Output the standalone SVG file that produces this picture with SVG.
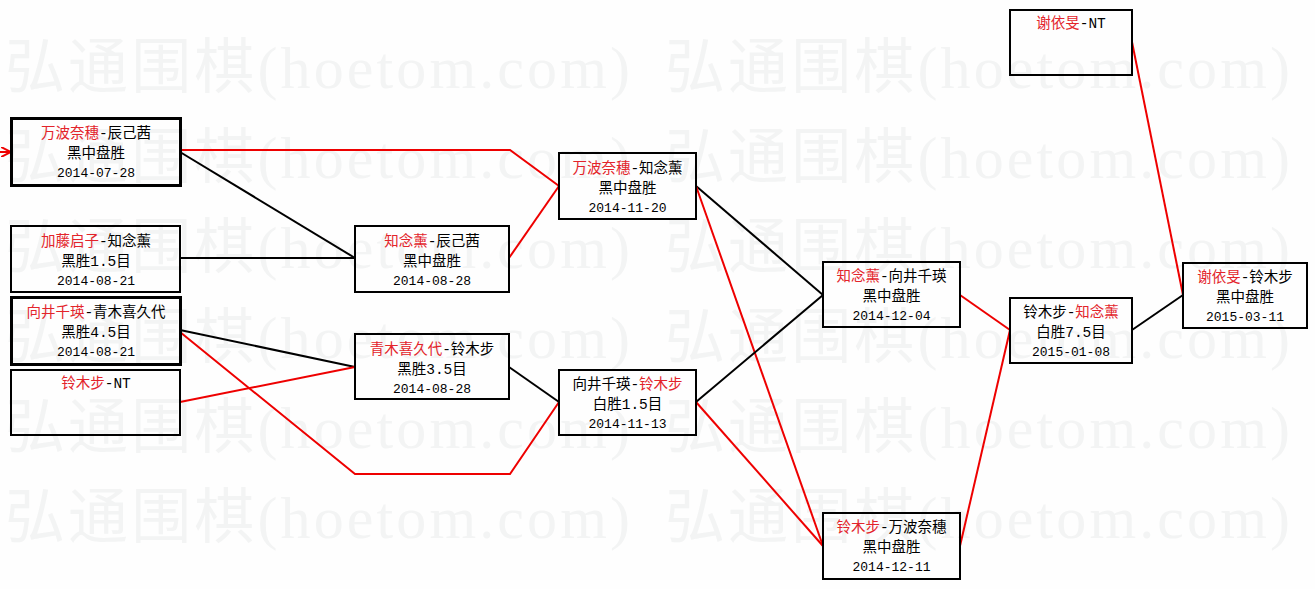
<svg xmlns="http://www.w3.org/2000/svg" width="1315" height="589" viewBox="0 0 1315 589">
<style>
.wm{font-family:"Liberation Serif","Noto Sans CJK SC",serif;font-size:60px;fill:#f3f4f4}
.box{fill:none;stroke:#000;stroke-width:2}
.thick{stroke-width:3}
.t{font-family:"Liberation Mono","Noto Sans CJK SC",monospace;font-size:14.5px;fill:#000;text-anchor:middle}
.d{font-family:"Liberation Mono","Noto Sans CJK SC",monospace;font-size:13px;fill:#000;text-anchor:middle}
.r{fill:#e3242b}
.lr{fill:none;stroke:#ee0000;stroke-width:2}
.lb{fill:none;stroke:#000;stroke-width:2}
</style>
<defs>
<marker id="ah" viewBox="0 0 10 10" refX="9" refY="5" markerWidth="5" markerHeight="5" orient="auto" markerUnits="strokeWidth">
<path d="M0,0 L10,5 L0,10" fill="none" stroke="#ee0000" stroke-width="2"/>
</marker>
</defs>
<rect width="1315" height="589" fill="#fefefe"/>
<g id="watermark">
<text class="wm" x="5" y="88" textLength="625" lengthAdjust="spacing">弘通围棋(hoetom.com)</text>
<text class="wm" x="665" y="88" textLength="625" lengthAdjust="spacing">弘通围棋(hoetom.com)</text>
<text class="wm" x="5" y="178" textLength="625" lengthAdjust="spacing">弘通围棋(hoetom.com)</text>
<text class="wm" x="665" y="178" textLength="625" lengthAdjust="spacing">弘通围棋(hoetom.com)</text>
<text class="wm" x="5" y="268" textLength="625" lengthAdjust="spacing">弘通围棋(hoetom.com)</text>
<text class="wm" x="665" y="268" textLength="625" lengthAdjust="spacing">弘通围棋(hoetom.com)</text>
<text class="wm" x="5" y="358" textLength="625" lengthAdjust="spacing">弘通围棋(hoetom.com)</text>
<text class="wm" x="665" y="358" textLength="625" lengthAdjust="spacing">弘通围棋(hoetom.com)</text>
<text class="wm" x="5" y="448" textLength="625" lengthAdjust="spacing">弘通围棋(hoetom.com)</text>
<text class="wm" x="665" y="448" textLength="625" lengthAdjust="spacing">弘通围棋(hoetom.com)</text>
<text class="wm" x="5" y="538" textLength="625" lengthAdjust="spacing">弘通围棋(hoetom.com)</text>
<text class="wm" x="665" y="538" textLength="625" lengthAdjust="spacing">弘通围棋(hoetom.com)</text>
</g>
<g id="connectors">
<line class="lr" x1="0" y1="152" x2="10" y2="152" marker-end="url(#ah)"/>
<polyline class="lr" points="180,150 510,150 559,186"/>
<polyline class="lb" points="180,152 355,258"/>
<polyline class="lb" points="180,258 355,258"/>
<polyline class="lr" points="509,258 559,186"/>
<polyline class="lb" points="180,330 355,367"/>
<polyline class="lr" points="180,402 355,367"/>
<polyline class="lr" points="180,332 355,474 510,474 559,402"/>
<polyline class="lb" points="509,367 559,402"/>
<polyline class="lb" points="696,186 823,295"/>
<polyline class="lr" points="696,186 823,546"/>
<polyline class="lb" points="696,402 823,295"/>
<polyline class="lr" points="696,402 823,546"/>
<polyline class="lr" points="960,295 1010,330"/>
<polyline class="lr" points="960,546 1010,330"/>
<polyline class="lb" points="1132,330 1183,295"/>
<polyline class="lr" points="1132,42 1183,295"/>
</g>
<g id="n1">
<rect class="box thick" x="11.5" y="118.5" width="169" height="67"/>
<text class="t" x="96" y="138"><tspan class="r">万波奈穗</tspan>-辰己茜</text>
<text class="t" x="96" y="158">黑中盘胜</text>
<text class="d" x="96" y="177">2014-07-28</text>
</g>
<g id="n2">
<rect class="box" x="11" y="226" width="169" height="66"/>
<text class="t" x="96" y="246"><tspan class="r">加藤启子</tspan>-知念薰</text>
<text class="t" x="96" y="266">黑胜1.5目</text>
<text class="d" x="96" y="285">2014-08-21</text>
</g>
<g id="n3">
<rect class="box thick" x="11.5" y="297.5" width="169" height="67"/>
<text class="t" x="96" y="317"><tspan class="r">向井千瑛</tspan>-青木喜久代</text>
<text class="t" x="96" y="337">黑胜4.5目</text>
<text class="d" x="96" y="356">2014-08-21</text>
</g>
<g id="n4">
<rect class="box" x="11" y="370" width="169" height="65"/>
<text class="t" x="96" y="388"><tspan class="r">铃木步</tspan>-NT</text>
</g>
<g id="n5">
<rect class="box" x="355" y="226" width="154" height="66"/>
<text class="t" x="432" y="246"><tspan class="r">知念薰</tspan>-辰己茜</text>
<text class="t" x="432" y="266">黑中盘胜</text>
<text class="d" x="432" y="285">2014-08-28</text>
</g>
<g id="n6">
<rect class="box" x="355" y="334" width="154" height="65"/>
<text class="t" x="432" y="354"><tspan class="r">青木喜久代</tspan>-铃木步</text>
<text class="t" x="432" y="374">黑胜3.5目</text>
<text class="d" x="432" y="393">2014-08-28</text>
</g>
<g id="n7">
<rect class="box" x="559" y="153" width="137" height="66"/>
<text class="t" x="627.5" y="173"><tspan class="r">万波奈穗</tspan>-知念薰</text>
<text class="t" x="627.5" y="193">黑中盘胜</text>
<text class="d" x="627.5" y="212">2014-11-20</text>
</g>
<g id="n8">
<rect class="box" x="559" y="370" width="137" height="65"/>
<text class="t" x="627.5" y="389">向井千瑛-<tspan class="r">铃木步</tspan></text>
<text class="t" x="627.5" y="409">白胜1.5目</text>
<text class="d" x="627.5" y="428">2014-11-13</text>
</g>
<g id="n9">
<rect class="box" x="823" y="262" width="137" height="65"/>
<text class="t" x="891.5" y="281"><tspan class="r">知念薰</tspan>-向井千瑛</text>
<text class="t" x="891.5" y="301">黑中盘胜</text>
<text class="d" x="891.5" y="320">2014-12-04</text>
</g>
<g id="n10">
<rect class="box" x="823" y="513" width="137" height="66"/>
<text class="t" x="891.5" y="532"><tspan class="r">铃木步</tspan>-万波奈穗</text>
<text class="t" x="891.5" y="552">黑中盘胜</text>
<text class="d" x="891.5" y="571">2014-12-11</text>
</g>
<g id="n11">
<rect class="box" x="1010" y="298" width="122" height="65"/>
<text class="t" x="1071" y="317">铃木步-<tspan class="r">知念薰</tspan></text>
<text class="t" x="1071" y="337">白胜7.5目</text>
<text class="d" x="1071" y="356">2015-01-08</text>
</g>
<g id="n12">
<rect class="box" x="1183" y="263" width="124" height="65"/>
<text class="t" x="1245" y="282"><tspan class="r">谢依旻</tspan>-铃木步</text>
<text class="t" x="1245" y="302">黑中盘胜</text>
<text class="d" x="1245" y="321">2015-03-11</text>
</g>
<g id="n13">
<rect class="box" x="1010" y="10" width="122" height="65"/>
<text class="t" x="1071" y="28"><tspan class="r">谢依旻</tspan>-NT</text>
</g>
</svg>
